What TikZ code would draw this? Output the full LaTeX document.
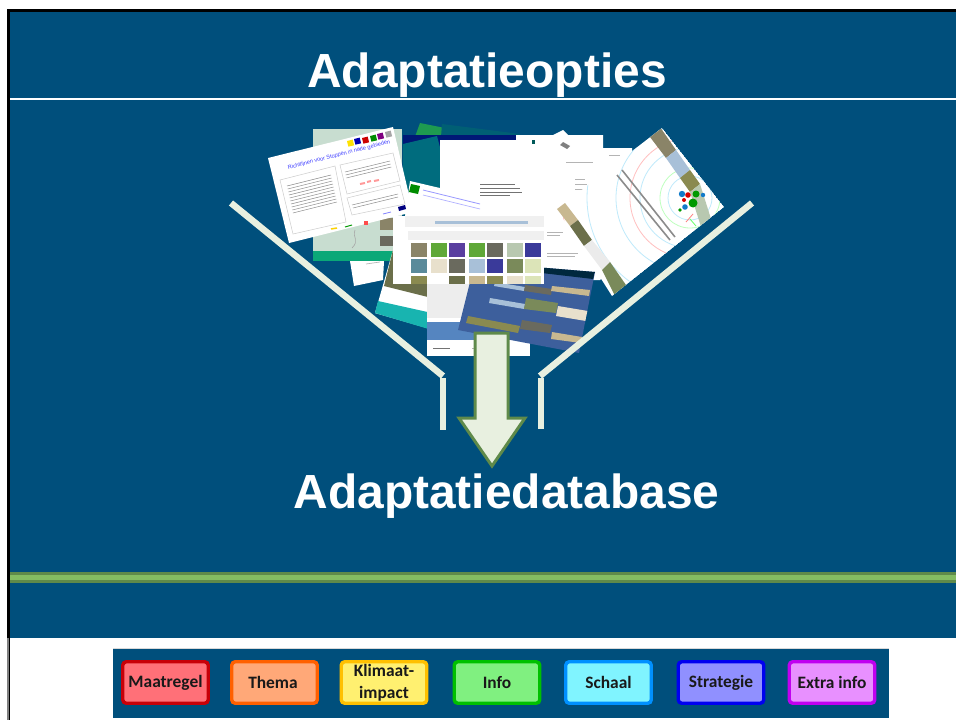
\documentclass[tikz,border=0pt]{standalone}
\usepackage{fontspec}
\setmainfont{Liberation Sans}
\newfontfamily\btnfont{Carlito}
\definecolor{deck}{HTML}{004F7C}
\definecolor{pale}{HTML}{E8F0E0}
\definecolor{moss}{HTML}{5F8A4A}
\definecolor{lime}{HTML}{84BC62}
\definecolor{txtgrey}{HTML}{B4B4B4}
\definecolor{ph1}{HTML}{8A8468}
\definecolor{ph2}{HTML}{5FA838}
\definecolor{ph3}{HTML}{5A3FA0}
\definecolor{ph4}{HTML}{6B6F4A}
\definecolor{ph5}{HTML}{B8C8B0}
\definecolor{ph6}{HTML}{3A3A9A}
\definecolor{ph7}{HTML}{5A8A9A}
\definecolor{ph8}{HTML}{E8E0CC}
\definecolor{ph9}{HTML}{6A6A5E}
\definecolor{ph10}{HTML}{A8C0D8}
\definecolor{ph11}{HTML}{7A8A5A}
\definecolor{ph12}{HTML}{DCE4B8}
\definecolor{ph13}{HTML}{8A8A50}
\definecolor{ph14}{HTML}{C8B890}
\definecolor{photobase}{HTML}{3D5F9C}
\definecolor{topgreen}{HTML}{1E9A50}
\definecolor{bandblue}{HTML}{5585C0}
\definecolor{mapgreen}{HTML}{C8DDD0}
\definecolor{mapband}{HTML}{0BA878}
\definecolor{tealband}{HTML}{18B4B0}
\definecolor{btnred}{HTML}{C80008}
\definecolor{fillred}{HTML}{FF7078}
\definecolor{btnorange}{HTML}{FF6000}
\definecolor{fillorange}{HTML}{FFA878}
\definecolor{btnyellow}{HTML}{FFC000}
\definecolor{fillyellow}{HTML}{FFF070}
\definecolor{btngreen}{HTML}{00C000}
\definecolor{fillgreen}{HTML}{80F080}
\definecolor{btncyan}{HTML}{0090FF}
\definecolor{fillcyan}{HTML}{80F4FF}
\definecolor{btnblue}{HTML}{0000F0}
\definecolor{fillblue}{HTML}{9090FF}
\definecolor{btnviolet}{HTML}{C000F0}
\definecolor{fillviolet}{HTML}{E890FF}
\tikzset{
  x=1pt,y=-1pt,
  title/.style={text=white,font=\bfseries\fontsize{47.9}{50}\selectfont,inner sep=0pt,anchor=center},
  btn/.style={rounded corners=3.5pt,line width=3.4pt,minimum width=85.5pt,minimum height=41.5pt,inner sep=0pt,align=center,anchor=center,
     text=black!90,font=\btnfont\bfseries\fontsize{17.4}{21}\selectfont},
  funnel/.style={draw=pale,line width=6.5pt},
  sheet/.style={fill=white},
  tl/.style={draw=txtgrey,line width=.7pt},
}
\begin{document}
\begin{tikzpicture}
\useasboundingbox (0,0) rectangle (956,720);
\fill[white] (0,0) rectangle (956,720);
% slide
\fill[black] (7,9) rectangle (956,638);
\fill[black!50] (7,638) rectangle (8.5,720);
\fill[black] (8.5,638) rectangle (10,720);
\fill[deck] (10,12) rectangle (956,638);
\fill[white] (10,98) rectangle (956,100);
\fill[moss] (10,572) rectangle (956,583);
\fill[lime] (10,575) rectangle (956,580);
% ---------- collage ----------
\fill[topgreen] (420,123) -- (445,128) -- (442,150) -- (412,145) -- cycle;
\fill[black!15!teal!55!deck] (442,124) -- (520,134) -- (515,160) -- (440,150) -- cycle;
% blue sheet
\fill[blue!45!black!70!deck] (403,135) -- (520,135) -- (520,200) -- (403,200) -- cycle;
\fill[teal!60!deck] (403,144) -- (437,136) -- (458,215) -- (403,215) -- cycle;
% white sheets behind
\fill[sheet] (516,135) -- (553,135) -- (563,130) -- (568,135) -- (603,135) -- (603,148) -- (632,148) -- (632,270) -- (599,280) -- (540,250) -- (516,220) -- cycle;
\fill[sheet] (440,140) -- (560,140) -- (600,180) -- (600,280) -- (500,230) -- (440,200) -- cycle;
\fill[sheet] (500,200) -- (590,200) -- (600,280) -- (590,280) -- (500,260) -- cycle;
% blurred text on them
\draw[tl,black!55] (480,184) -- (515,184) (480,188) -- (520,188) (480,192) -- (522,192) (480,195) -- (510,195);
\draw[tl] (566,162) -- (593,162) (575,179) -- (585,179) (575,184) -- (587,184) (575,189) -- (585,189);
\draw[tl] (547,232) -- (563,232) (547,235) -- (560,235) (547,253) -- (578,253) (547,256) -- (575,256);
\draw[tl] (609,155) -- (620,155);
\fill[black!50] (563,142) -- (570,146) -- (567,149) -- (560,145) -- cycle;
\fill[teal!70!black] (532,140) rectangle (535,144);
% green map sheet
\fill[mapgreen] (313,129) -- (402,129) -- (402,261) -- (313,261) -- cycle;
\fill[mapband] (313,251) rectangle (402,261);
\fill[ph1] (380,218) rectangle (400,230);
\fill[ph9] (380,236) rectangle (400,246);
\draw[black!35,line width=.6pt] (355,230) .. controls (352,238) and (360,240) .. (352,248);
% small white page
\fill[sheet] (350,261) -- (384,261) -- (383,280) -- (354,286) -- cycle;
\draw[tl] (366,264) -- (380,262);
% teal-banded sheet
\fill[sheet] (393,250) -- (430,250) -- (440,330) -- (427,328) -- (375,313) -- cycle;
\fill[ph4] (393,250) -- (440,250) -- (440,300) -- (384,286) -- cycle;
\fill[tealband] (378,301) -- (432,313) -- (432,330) -- (375,313) -- cycle;
% white page with blue band
\fill[sheet] (427,283) rectangle (530,356);
\fill[black!7] (427,283) rectangle (470,318);
\fill[bandblue] (427,322) rectangle (530,340);
\draw[tl,black!55] (433,348) -- (450,348);
\draw[tl] (472,348) -- (490,348);
% photo sheet
\begin{scope}
\clip (475,262) -- (595,272) -- (579,353) -- (458,330) -- cycle;
\fill[photobase] (450,255) rectangle (600,356);
\fill[black!50!deck] (475,262) -- (595,272) -- (593,279) -- (473,265) -- cycle;
\fill[ph10] (495,282) -- (525,287) -- (524,291) -- (494,286) -- cycle;
\fill[ph9] (525,285) -- (552,289) -- (551,295) -- (524,291) -- cycle;
\fill[ph14] (552,286) -- (590,290) -- (589,296) -- (551,291) -- cycle;
\fill[ph10] (490,298) -- (525,304) -- (524,309) -- (489,303) -- cycle;
\fill[ph11] (526,298) -- (558,303) -- (556,313) -- (524,309) -- cycle;
\fill[ph8] (558,306) -- (588,311) -- (586,321) -- (556,316) -- cycle;
\fill[ph13] (468,316) -- (520,326) -- (518,333) -- (466,323) -- cycle;
\fill[ph9] (522,320) -- (552,325) -- (550,333) -- (520,329) -- cycle;
\fill[ph14] (552,332) -- (582,337) -- (581,343) -- (551,339) -- cycle;
\end{scope}
% thumbnail card
\fill[sheet] (393,216) rectangle (544,284);
\fill[black!6] (405,216) rectangle (544,227);
\fill[ph10] (435,221) rectangle (528,224);
\fill[black!6] (408,231) rectangle (544,240);
\foreach \cx/\cy/\ch/\col in {
 411/243/14/ph1, 431/243/14/ph2, 449/243/14/ph3, 469/243/14/ph2, 487/243/14/ph9, 507/243/14/ph5, 525/243/14/ph6,
 411/259/14/ph7, 431/259/14/ph8, 449/259/14/ph9, 469/259/14/ph10, 487/259/14/ph6, 507/259/14/ph11, 525/259/14/ph12,
 411/276/8/ph13, 449/276/8/ph4, 469/276/8/ph14, 487/276/8/ph13, 507/276/8/ph8, 525/276/8/ph12}
  \fill[fill=\col] (\cx,\cy) rectangle (\cx+16,\cy+\ch);
% sheet with green logo above the card
\fill[sheet] (410,181) -- (508,204) -- (500,216) -- (405,216) -- cycle;
\fill[green!55!black] (411,184) -- (420,186) -- (418,194) -- (409,192) -- cycle;
\draw[blue!40!white,line width=.8pt] (423,190) -- (480,204);
\draw[blue!30!white,line width=.7pt] (423,195) -- (480,209);
% front-left sheet
\fill[sheet] (268,158) -- (393,127) -- (413,212) -- (289,243) -- cycle;
\draw[black!20,line width=.5pt] (280,180) -- (335,166) -- (346,222) -- (293,234) -- cycle;
\draw[black!20,line width=.5pt] (340,165) -- (393,153) -- (400,181) -- (347,194) -- cycle;
\draw[black!20,line width=.5pt] (347,198) -- (400,185) -- (405,204) -- (352,215) -- cycle;
\foreach \d in {0,3,...,27}
  \draw[black!45,line width=.5pt] (287+\d*.22,186+\d) -- (331+\d*.22,175+\d);
\foreach \d in {0,3,6}
  \draw[black!45,line width=.5pt] (345+\d*.22,172+\d) -- (390+\d*.22,161+\d);
\draw[black!45,line width=.5pt] (352,205) -- (398,194) (353,208) -- (398,197);
\draw[red!40!white,line width=2pt] (360,184) -- (365,183) (367,182) -- (371,181) (374,181) -- (379,180);
\foreach \px/\py/\pc in {347/141/yellow!85!orange, 354/139/blue!70!black, 362/138/red!80!black, 370/136/green!55!black, 377/134/violet, 385/132/black!35}
  \fill[\pc] (\px,\py) -- (\px+5.7,\py-1.4) -- (\px+7.1,\py+4.3) -- (\px+1.4,\py+5.7) -- cycle;
\node[rotate=14.3,inner sep=0pt,text=blue!75!white,font=\fontsize{5.6}{7}\selectfont] (head) at (339,155) {Richtlijnen voor Stoppen in natte gebieden};
\draw[yellow!70!orange,line width=1.5pt] (331,229) -- (337,228);
\draw[green!60!black,line width=1pt] (345,227) -- (352,225);
\fill[red!70!white] (364,221) rectangle (368,225);
\fill[blue!50!black] (398,207) -- (405,205) -- (406,209) -- (399,211) -- cycle;
\draw[blue!50!white,line width=.8pt] (383,214) -- (391,212);
% right rotated sheet
\begin{scope}
\clip (662,128) -- (724,207) -- (612,296) -- (557,209) -- cycle;
\fill[white] (662,128) -- (724,207) -- (612,296) -- (557,209) -- cycle;
\draw[cyan!25!white,line width=.8pt] (690,198) circle[radius=22] (690,198) circle[radius=50] (690,198) circle[radius=74] (690,198) circle[radius=103];
\draw[red!25!white,line width=.8pt] (690,198) circle[radius=60] (690,198) circle[radius=128];
\draw[green!25!white,line width=.8pt] (690,198) circle[radius=30];
% photo strips
\fill[ph1] (650,137) -- (660,127) -- (676,150) -- (666,158) -- cycle;
\fill[ph10] (666,158) -- (676,150) -- (690,170) -- (680,178) -- cycle;
\fill[ph13] (680,178) -- (690,170) -- (700,184) -- (690,192) -- cycle;
\fill[ph5] (690,192) -- (700,184) -- (712,222) -- (702,230) -- cycle;
\fill[ph14] (557,209) -- (565,203) -- (578,220) -- (570,226) -- cycle;
\fill[ph4] (570,226) -- (578,220) -- (592,240) -- (584,246) -- cycle;
\fill[black!8] (584,246) -- (592,240) -- (610,262) -- (602,270) -- cycle;
\fill[ph11] (602,270) -- (610,262) -- (626,285) -- (615,296) -- cycle;
\end{scope}
\draw[black!45,line width=1.6pt] (622,170) -- (675,237);
\draw[black!45,line width=1.6pt] (617,175) -- (670,240);
\foreach \ox/\oy/\ors/\ocol in {682/194/3.2/cyan!60!blue, 688/195/2.8/red!85!black, 696/194/3.5/green!60!black, 703/195/2.2/cyan!60!blue, 684/200/2/red!85!black, 693/203/4.5/green!60!black, 685/207/2.8/cyan!60!blue, 680/210/1.8/green!60!black}
  \fill[\ocol] (\ox,\oy) circle[radius=\ors];
\draw[red!50!white,line width=.8pt] (693,214) -- (686,222);
\draw[green!60!white,line width=.8pt] (690,219) -- (696,226);
% ---------- funnel ----------
\coordinate (fl1) at (231,203);
\coordinate (fl2) at (443,376);
\coordinate (fl3) at (443,378);
\coordinate (fl4) at (443,430);
\coordinate (fr1) at (752,203);
\coordinate (fr2) at (540,376);
\coordinate (fr3) at (541,378);
\coordinate (fr4) at (541,429);
\draw[funnel] (fl1) -- (fl2);
\draw[funnel] (fl3) -- (fl4);
\draw[funnel] (fr1) -- (fr2);
\draw[funnel] (fr3) -- (fr4);
% arrow
\draw[draw=moss,fill=pale,line width=3pt,miter limit=10]
  (475,333) -- (508,333) -- (508,418) -- (525,418) -- (492,466) -- (459,418) -- (475,418) -- cycle;
% titles
\node[title] (t1) at (487,75.5) {Adaptatieopties};
\node[title] (t2) at (506.5,496.5) {Adaptatiedatabase};
% legend
\fill[deck] (113,649) rectangle (889,718);
\draw[black!15,line width=.6pt] (113,648.5) -- (889,648.5);
\node[btn,draw=btnred,fill=fillred] (b1) at (165.5,682.5) {Maatregel};
\node[btn,draw=btnorange,fill=fillorange] (b2) at (274.5,682.5) {\hspace*{-3pt}\raisebox{1pt}{Thema}};
\node[btn,draw=btnyellow,fill=fillyellow] (b3) at (384,682.5) {\raisebox{1pt}{Klimaat-}\\impact};
\node[btn,draw=btngreen,fill=fillgreen] (b4) at (497,682.5) {Info};
\node[btn,draw=btncyan,fill=fillcyan] (b5) at (608.5,682.5) {\raisebox{1pt}{Schaal}};
\node[btn,draw=btnblue,fill=fillblue] (b6) at (721,682.5) {\raisebox{1pt}{Strategie}};
\node[btn,draw=btnviolet,fill=fillviolet] (b7) at (832,682.5) {Extra info};
\end{tikzpicture}
\end{document}
